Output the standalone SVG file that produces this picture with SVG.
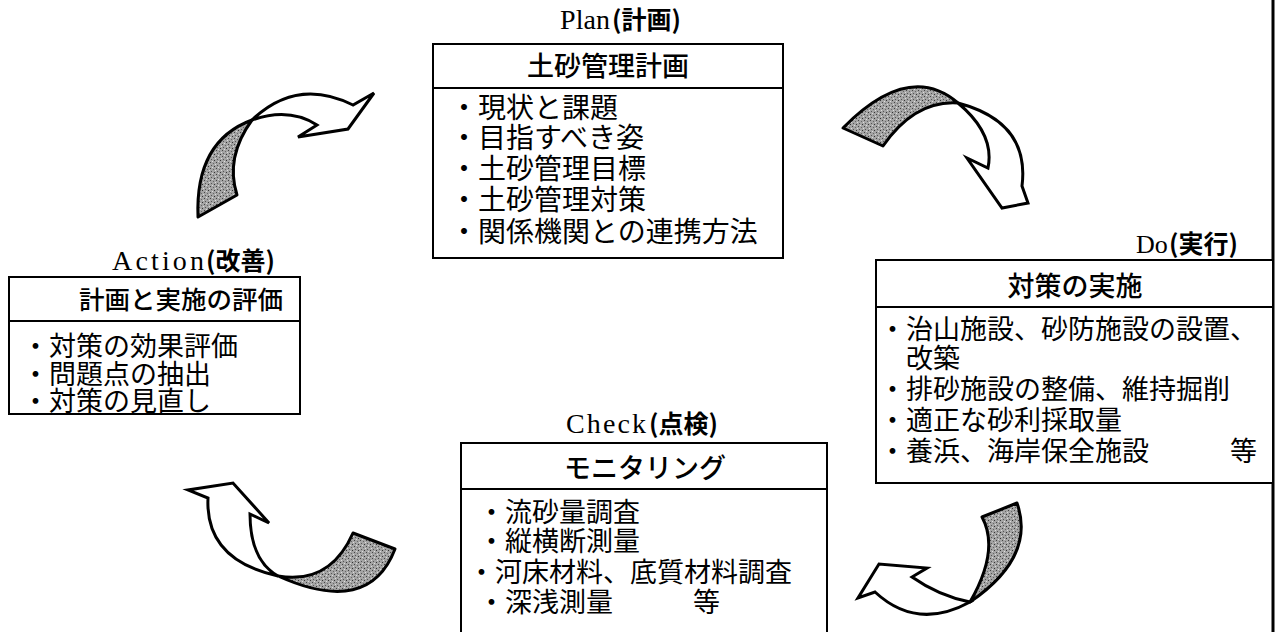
<svg xmlns="http://www.w3.org/2000/svg" width="1279" height="632" viewBox="0 0 1279 632">
<style>
.box{fill:#fff;stroke:#000;stroke-width:2}
.div{stroke:#000;stroke-width:2}
.lat{font-family:"Liberation Serif",serif;font-size:28px;fill:#000}
.par{font-family:"Noto Sans CJK JP",sans-serif;font-size:25px;font-weight:700;fill:#000}
.ttl{font-family:"Noto Sans CJK JP",sans-serif;font-size:27px;font-weight:500;fill:#000}
.itm{font-family:"Noto Sans CJK JP",sans-serif;font-size:27px;fill:#000}
.big{font-size:28px}
.sh{fill:url(#stip);stroke:#000;stroke-width:3;stroke-linejoin:round}
.wh{fill:#fff;stroke:#000;stroke-width:3;stroke-linejoin:miter}
</style>
<defs>
<pattern id="stip" width="6" height="6" patternUnits="userSpaceOnUse">
<rect width="6" height="6" fill="#a4a4a4"/>
<rect x="0" y="0" width="1" height="1" fill="#444"/>
<rect x="3" y="1" width="1" height="1" fill="#666"/>
<rect x="1" y="3" width="1" height="1" fill="#555"/>
<rect x="4" y="4" width="1" height="1" fill="#333"/>
<rect x="2" y="5" width="1" height="1" fill="#ddd"/>
<rect x="5" y="2" width="1" height="1" fill="#ddd"/>
</pattern>
</defs>
<rect width="1279" height="632" fill="#fff"/>
<line x1="1273" y1="0" x2="1273" y2="632" stroke="#000" stroke-width="3"/>

<g id="plan">
<text class="lat" x="560" y="29" textLength="50" lengthAdjust="spacing">Plan</text>
<text class="par" x="612" y="29">(計画)</text>
<rect class="box" x="433" y="44" width="350" height="214"/>
<line class="div" x1="433" y1="88" x2="783" y2="88"/>
<text class="ttl" x="608" y="76" text-anchor="middle">土砂管理計画</text>
<text class="itm big" x="450" y="118">・現状と課題</text>
<text class="itm big" x="450" y="148">・目指すべき姿</text>
<text class="itm big" x="450" y="179">・土砂管理目標</text>
<text class="itm big" x="450" y="210">・土砂管理対策</text>
<text class="itm big" x="450" y="242">・関係機関との連携方法</text>
</g>

<g id="do">
<text class="lat" x="1136" y="253" style="font-size:26px">Do</text>
<text class="par" x="1169" y="253">(実行)</text>
<rect class="box" x="876" y="260" width="397" height="223"/>
<line class="div" x1="876" y1="307" x2="1273" y2="307"/>
<text class="ttl" x="1075" y="296" text-anchor="middle">対策の実施</text>
<text class="itm" x="879" y="339">・治山施設、砂防施設の設置、</text>
<text class="itm" x="906" y="368">改築</text>
<text class="itm" x="879" y="399">・排砂施設の整備、維持掘削</text>
<text class="itm" x="879" y="430">・適正な砂利採取量</text>
<text class="itm" x="879" y="461">・養浜、海岸保全施設</text>
<text class="itm" x="1230" y="461">等</text>
</g>

<g id="action">
<text class="lat" x="112" y="270" textLength="92" lengthAdjust="spacing">Action</text>
<text class="par" x="206" y="270">(改善)</text>
<rect class="box" x="9" y="277" width="291" height="137"/>
<line class="div" x1="9" y1="321" x2="300" y2="321"/>
<text class="ttl" x="79" y="309" style="font-size:25.5px">計画と実施の評価</text>
<text class="itm" x="22" y="356">・対策の効果評価</text>
<text class="itm" x="22" y="384">・問題点の抽出</text>
<text class="itm" x="22" y="411">・対策の見直し</text>
</g>

<g id="check">
<text class="lat" x="566" y="433" textLength="80" lengthAdjust="spacing">Check</text>
<text class="par" x="649" y="433">(点検)</text>
<rect class="box" x="461" y="443" width="366" height="200"/>
<line class="div" x1="461" y1="489" x2="827" y2="489"/>
<text class="ttl" x="645" y="478" text-anchor="middle">モニタリング</text>
<text class="itm" x="478" y="522">・流砂量調査</text>
<text class="itm" x="478" y="551">・縦横断測量</text>
<text class="itm" x="468" y="582">・河床材料、底質材料調査</text>
<text class="itm" x="478" y="612">・深浅測量</text>
<text class="itm" x="693" y="612">等</text>
</g>

<g id="connectors">
<g id="arrow-action-plan">
<path class="sh" d="M198,217 Q195,141 252,120 Q225,157 237,195 Z"/>
<path class="wh" d="M252,120 Q297,77 353,105 L374,93 L348,129 L298,137 L317,125 Q289,107 252,120 Z"/>
</g>
<g id="arrow-plan-do">
<path class="sh" d="M843,128 Q909,61 958,103 Q915,100 883,146 Z"/>
<path class="wh" d="M958,103 Q1030,122 1022,186 L1028,203 L1002,208 L967,158 L988,168 Q995,134 958,103 Z"/>
</g>
<g id="arrow-do-check">
<path class="sh" d="M982,517 L1017,503 Q1036,557 970,602 Q1000,550 982,517 Z"/>
<path class="wh" d="M970,602 Q917,631 875,592 L858,598 L879,564 L927,568 L912,577 Q939,596 970,602 Z"/>
</g>
<g id="arrow-check-action">
<path class="sh" d="M353,533 L395,549 Q369,617 278,576 Q330,585 353,533 Z"/>
<path class="wh" d="M278,576 Q205,560 208,498 L188,490 L233,483 L269,523 L250,514 Q250,560 278,576 Z"/>
</g>
</g>
</svg>
